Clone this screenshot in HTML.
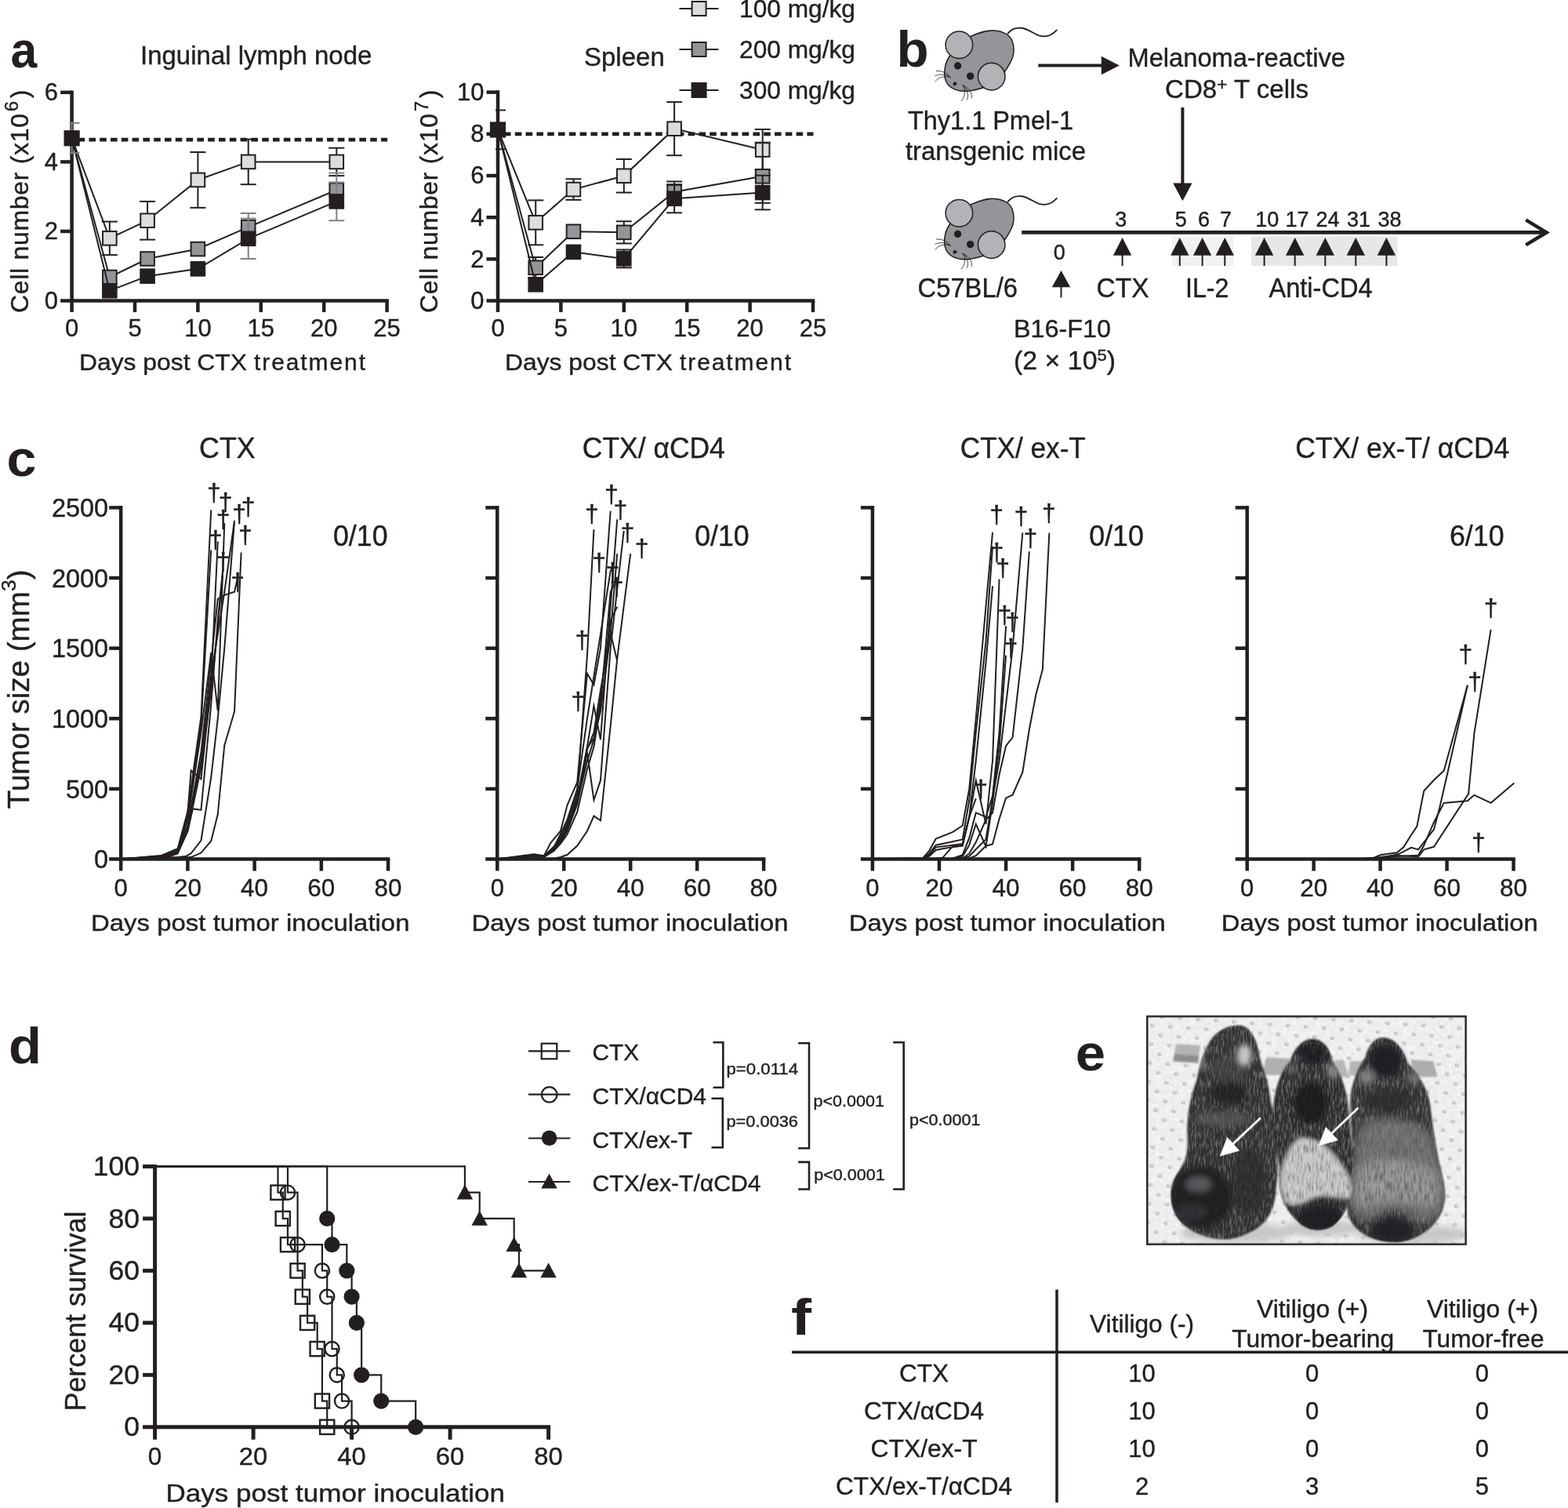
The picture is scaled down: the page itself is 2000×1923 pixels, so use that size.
<!DOCTYPE html>
<html lang="en"><head><meta charset="utf-8"><title>Figure</title>
<style>html,body{margin:0;padding:0;background:#fff}svg{display:block}text{font-family:"Liberation Sans",sans-serif;fill:#231f20;stroke:#231f20;stroke-width:.4px}text.b{stroke:none}</style></head>
<body><svg width="2000" height="1923" viewBox="0 0 2000 1923">
<rect x="0" y="0" width="2000" height="1923" fill="#fff"/>
<text x="13.5" y="86" font-size="64" font-weight="bold" textLength="33.7" lengthAdjust="spacingAndGlyphs" class="b">a</text>
<g>
<line x1="99.6" y1="178.05" x2="494.1" y2="178.05" stroke="#231f20" stroke-width="4.8" stroke-dasharray="8.6 5.2"/>
<line x1="139.84" y1="282.6" x2="139.84" y2="325.12" stroke="#231f20" stroke-width="2"/>
<line x1="129.84" y1="282.6" x2="149.84" y2="282.6" stroke="#231f20" stroke-width="2"/>
<line x1="129.84" y1="325.12" x2="149.84" y2="325.12" stroke="#231f20" stroke-width="2"/>
<line x1="188.08" y1="256.9" x2="188.08" y2="305.63" stroke="#231f20" stroke-width="2"/>
<line x1="178.08" y1="256.9" x2="198.08" y2="256.9" stroke="#231f20" stroke-width="2"/>
<line x1="178.08" y1="305.63" x2="198.08" y2="305.63" stroke="#231f20" stroke-width="2"/>
<line x1="252.4" y1="194" x2="252.4" y2="264.88" stroke="#231f20" stroke-width="2"/>
<line x1="242.4" y1="194" x2="262.4" y2="194" stroke="#231f20" stroke-width="2"/>
<line x1="242.4" y1="264.88" x2="262.4" y2="264.88" stroke="#231f20" stroke-width="2"/>
<line x1="316.72" y1="177.61" x2="316.72" y2="235.2" stroke="#231f20" stroke-width="2"/>
<line x1="306.72" y1="177.61" x2="326.72" y2="177.61" stroke="#231f20" stroke-width="2"/>
<line x1="306.72" y1="235.2" x2="326.72" y2="235.2" stroke="#231f20" stroke-width="2"/>
<line x1="429.28" y1="188.68" x2="429.28" y2="224.12" stroke="#231f20" stroke-width="2"/>
<line x1="419.28" y1="188.68" x2="439.28" y2="188.68" stroke="#231f20" stroke-width="2"/>
<line x1="419.28" y1="224.12" x2="439.28" y2="224.12" stroke="#231f20" stroke-width="2"/>
<polyline points="91.6,176.28 139.84,303.86 188.08,281.27 252.4,229.44 316.72,206.4 429.28,206.4" fill="none" stroke="#231f20" stroke-width="2"/>
<rect x="131.04" y="295.06" width="17.6" height="17.6" fill="#dcddde" stroke="#231f20" stroke-width="2"/>
<rect x="179.28" y="272.47" width="17.6" height="17.6" fill="#dcddde" stroke="#231f20" stroke-width="2"/>
<rect x="243.6" y="220.64" width="17.6" height="17.6" fill="#dcddde" stroke="#231f20" stroke-width="2"/>
<rect x="307.92" y="197.6" width="17.6" height="17.6" fill="#dcddde" stroke="#231f20" stroke-width="2"/>
<rect x="420.48" y="197.6" width="17.6" height="17.6" fill="#dcddde" stroke="#231f20" stroke-width="2"/>
<line x1="316.72" y1="271.96" x2="316.72" y2="307.4" stroke="#808285" stroke-width="2"/>
<line x1="306.72" y1="271.96" x2="326.72" y2="271.96" stroke="#808285" stroke-width="2"/>
<line x1="306.72" y1="307.4" x2="326.72" y2="307.4" stroke="#808285" stroke-width="2"/>
<line x1="429.28" y1="220.58" x2="429.28" y2="263.99" stroke="#808285" stroke-width="2"/>
<line x1="419.28" y1="220.58" x2="439.28" y2="220.58" stroke="#808285" stroke-width="2"/>
<line x1="419.28" y1="263.99" x2="439.28" y2="263.99" stroke="#808285" stroke-width="2"/>
<polyline points="91.6,176.28 139.84,353.48 188.08,330 252.4,317.59 316.72,289.68 429.28,242.28" fill="none" stroke="#231f20" stroke-width="2"/>
<rect x="131.04" y="344.68" width="17.6" height="17.6" fill="#939598" stroke="#231f20" stroke-width="2"/>
<rect x="179.28" y="321.2" width="17.6" height="17.6" fill="#939598" stroke="#231f20" stroke-width="2"/>
<rect x="243.6" y="308.79" width="17.6" height="17.6" fill="#939598" stroke="#231f20" stroke-width="2"/>
<rect x="307.92" y="280.88" width="17.6" height="17.6" fill="#939598" stroke="#231f20" stroke-width="2"/>
<rect x="420.48" y="233.48" width="17.6" height="17.6" fill="#939598" stroke="#231f20" stroke-width="2"/>
<line x1="316.72" y1="278.61" x2="316.72" y2="330" stroke="#808285" stroke-width="2"/>
<line x1="306.72" y1="278.61" x2="326.72" y2="278.61" stroke="#808285" stroke-width="2"/>
<line x1="306.72" y1="330" x2="326.72" y2="330" stroke="#808285" stroke-width="2"/>
<line x1="429.28" y1="232.54" x2="429.28" y2="281.27" stroke="#808285" stroke-width="2"/>
<line x1="419.28" y1="232.54" x2="439.28" y2="232.54" stroke="#808285" stroke-width="2"/>
<line x1="419.28" y1="281.27" x2="439.28" y2="281.27" stroke="#808285" stroke-width="2"/>
<polyline points="91.6,176.28 139.84,370.75 188.08,352.15 252.4,342.84 316.72,304.3 429.28,256.9" fill="none" stroke="#231f20" stroke-width="2"/>
<rect x="131.04" y="361.95" width="17.6" height="17.6" fill="#231f20" stroke="#231f20" stroke-width="2"/>
<rect x="179.28" y="343.35" width="17.6" height="17.6" fill="#231f20" stroke="#231f20" stroke-width="2"/>
<rect x="243.6" y="334.04" width="17.6" height="17.6" fill="#231f20" stroke="#231f20" stroke-width="2"/>
<rect x="307.92" y="295.5" width="17.6" height="17.6" fill="#231f20" stroke="#231f20" stroke-width="2"/>
<rect x="420.48" y="248.1" width="17.6" height="17.6" fill="#231f20" stroke="#231f20" stroke-width="2"/>
<line x1="91.6" y1="115.55" x2="91.6" y2="398.1" stroke="#231f20" stroke-width="4.5"/>
<line x1="77.1" y1="383.6" x2="495.85" y2="383.6" stroke="#231f20" stroke-width="4.5"/>
<text x="74.1" y="393.9" font-size="31" text-anchor="end">0</text>
<line x1="77.1" y1="295" x2="91.6" y2="295" stroke="#231f20" stroke-width="4.5"/>
<text x="74.1" y="305.3" font-size="31" text-anchor="end">2</text>
<line x1="77.1" y1="206.4" x2="91.6" y2="206.4" stroke="#231f20" stroke-width="4.5"/>
<text x="74.1" y="216.7" font-size="31" text-anchor="end">4</text>
<line x1="77.1" y1="117.8" x2="91.6" y2="117.8" stroke="#231f20" stroke-width="4.5"/>
<text x="74.1" y="128.1" font-size="31" text-anchor="end">6</text>
<line x1="172" y1="383.6" x2="172" y2="398.1" stroke="#231f20" stroke-width="4.5"/>
<line x1="252.4" y1="383.6" x2="252.4" y2="398.1" stroke="#231f20" stroke-width="4.5"/>
<line x1="332.8" y1="383.6" x2="332.8" y2="398.1" stroke="#231f20" stroke-width="4.5"/>
<line x1="413.2" y1="383.6" x2="413.2" y2="398.1" stroke="#231f20" stroke-width="4.5"/>
<line x1="493.6" y1="383.6" x2="493.6" y2="398.1" stroke="#231f20" stroke-width="4.5"/>
<text x="91.6" y="428.6" font-size="31" text-anchor="middle">0</text>
<text x="172" y="428.6" font-size="31" text-anchor="middle">5</text>
<text x="252.4" y="428.6" font-size="31" text-anchor="middle">10</text>
<text x="332.8" y="428.6" font-size="31" text-anchor="middle">15</text>
<text x="413.2" y="428.6" font-size="31" text-anchor="middle">20</text>
<text x="493.6" y="428.6" font-size="31" text-anchor="middle">25</text>
<line x1="91.6" y1="156.78" x2="91.6" y2="195.33" stroke="#808285" stroke-width="2"/>
<line x1="88.6" y1="156.78" x2="101.6" y2="156.78" stroke="#808285" stroke-width="2"/>
<line x1="88.6" y1="195.33" x2="101.6" y2="195.33" stroke="#808285" stroke-width="2"/>
<rect x="82.5" y="167.18" width="18.2" height="18.2" fill="#231f20" stroke="#231f20" stroke-width="2"/>
<text x="179" y="82.2" font-size="33">Inguinal lymph node</text>
<text x="101" y="471.6" font-size="30" textLength="214" lengthAdjust="spacingAndGlyphs">Days post CTX</text>
<text x="324" y="471.6" font-size="30" textLength="142" lengthAdjust="spacing">treatment</text>
<text x="36" y="399.1" font-size="32" transform="rotate(-90 36 399.1)" letter-spacing="0.7">Cell number (x10<tspan font-size="24" dy="-12.5" dx="2">6</tspan><tspan dy="12.5" dx="3">)</tspan></text>
</g>
<g>
<line x1="643" y1="170.8" x2="1037.5" y2="170.8" stroke="#231f20" stroke-width="4.8" stroke-dasharray="8.6 5.2"/>
<line x1="683.24" y1="255.39" x2="683.24" y2="312.31" stroke="#231f20" stroke-width="2"/>
<line x1="673.24" y1="255.39" x2="693.24" y2="255.39" stroke="#231f20" stroke-width="2"/>
<line x1="673.24" y1="312.31" x2="693.24" y2="312.31" stroke="#231f20" stroke-width="2"/>
<line x1="731.48" y1="228.26" x2="731.48" y2="254.86" stroke="#231f20" stroke-width="2"/>
<line x1="721.48" y1="228.26" x2="741.48" y2="228.26" stroke="#231f20" stroke-width="2"/>
<line x1="721.48" y1="254.86" x2="741.48" y2="254.86" stroke="#231f20" stroke-width="2"/>
<line x1="795.8" y1="202.99" x2="795.8" y2="245.55" stroke="#231f20" stroke-width="2"/>
<line x1="785.8" y1="202.99" x2="805.8" y2="202.99" stroke="#231f20" stroke-width="2"/>
<line x1="785.8" y1="245.55" x2="805.8" y2="245.55" stroke="#231f20" stroke-width="2"/>
<line x1="860.12" y1="130.1" x2="860.12" y2="198.2" stroke="#231f20" stroke-width="2"/>
<line x1="850.12" y1="130.1" x2="870.12" y2="130.1" stroke="#231f20" stroke-width="2"/>
<line x1="850.12" y1="198.2" x2="870.12" y2="198.2" stroke="#231f20" stroke-width="2"/>
<line x1="972.68" y1="164.95" x2="972.68" y2="217.08" stroke="#231f20" stroke-width="2"/>
<line x1="962.68" y1="164.95" x2="982.68" y2="164.95" stroke="#231f20" stroke-width="2"/>
<line x1="962.68" y1="217.08" x2="982.68" y2="217.08" stroke="#231f20" stroke-width="2"/>
<polyline points="635,165.48 683.24,283.85 731.48,241.56 795.8,224.27 860.12,164.15 972.68,191.02" fill="none" stroke="#231f20" stroke-width="2"/>
<rect x="674.44" y="275.05" width="17.6" height="17.6" fill="#dcddde" stroke="#231f20" stroke-width="2"/>
<rect x="722.68" y="232.76" width="17.6" height="17.6" fill="#dcddde" stroke="#231f20" stroke-width="2"/>
<rect x="787" y="215.47" width="17.6" height="17.6" fill="#dcddde" stroke="#231f20" stroke-width="2"/>
<rect x="851.32" y="155.35" width="17.6" height="17.6" fill="#dcddde" stroke="#231f20" stroke-width="2"/>
<rect x="963.88" y="182.22" width="17.6" height="17.6" fill="#dcddde" stroke="#231f20" stroke-width="2"/>
<line x1="683.24" y1="328.01" x2="683.24" y2="354.61" stroke="#231f20" stroke-width="2"/>
<line x1="673.24" y1="328.01" x2="693.24" y2="328.01" stroke="#231f20" stroke-width="2"/>
<line x1="673.24" y1="354.61" x2="693.24" y2="354.61" stroke="#231f20" stroke-width="2"/>
<line x1="795.8" y1="282.25" x2="795.8" y2="310.45" stroke="#231f20" stroke-width="2"/>
<line x1="785.8" y1="282.25" x2="805.8" y2="282.25" stroke="#231f20" stroke-width="2"/>
<line x1="785.8" y1="310.45" x2="805.8" y2="310.45" stroke="#231f20" stroke-width="2"/>
<line x1="860.12" y1="231.45" x2="860.12" y2="258.05" stroke="#231f20" stroke-width="2"/>
<line x1="850.12" y1="231.45" x2="870.12" y2="231.45" stroke="#231f20" stroke-width="2"/>
<line x1="850.12" y1="258.05" x2="870.12" y2="258.05" stroke="#231f20" stroke-width="2"/>
<line x1="972.68" y1="181.71" x2="972.68" y2="258.85" stroke="#231f20" stroke-width="2"/>
<line x1="962.68" y1="181.71" x2="982.68" y2="181.71" stroke="#231f20" stroke-width="2"/>
<line x1="962.68" y1="258.85" x2="982.68" y2="258.85" stroke="#231f20" stroke-width="2"/>
<polyline points="635,165.48 683.24,341.31 731.48,295.29 795.8,296.35 860.12,244.75 972.68,224.8" fill="none" stroke="#231f20" stroke-width="2"/>
<rect x="674.44" y="332.51" width="17.6" height="17.6" fill="#939598" stroke="#231f20" stroke-width="2"/>
<rect x="722.68" y="286.49" width="17.6" height="17.6" fill="#939598" stroke="#231f20" stroke-width="2"/>
<rect x="787" y="287.55" width="17.6" height="17.6" fill="#939598" stroke="#231f20" stroke-width="2"/>
<rect x="851.32" y="235.95" width="17.6" height="17.6" fill="#939598" stroke="#231f20" stroke-width="2"/>
<rect x="963.88" y="216" width="17.6" height="17.6" fill="#939598" stroke="#231f20" stroke-width="2"/>
<line x1="795.8" y1="318.43" x2="795.8" y2="341.31" stroke="#231f20" stroke-width="2"/>
<line x1="785.8" y1="318.43" x2="805.8" y2="318.43" stroke="#231f20" stroke-width="2"/>
<line x1="785.8" y1="341.31" x2="805.8" y2="341.31" stroke="#231f20" stroke-width="2"/>
<line x1="860.12" y1="235.17" x2="860.12" y2="271.35" stroke="#231f20" stroke-width="2"/>
<line x1="850.12" y1="235.17" x2="870.12" y2="235.17" stroke="#231f20" stroke-width="2"/>
<line x1="850.12" y1="271.35" x2="870.12" y2="271.35" stroke="#231f20" stroke-width="2"/>
<line x1="972.68" y1="223.73" x2="972.68" y2="267.36" stroke="#231f20" stroke-width="2"/>
<line x1="962.68" y1="223.73" x2="982.68" y2="223.73" stroke="#231f20" stroke-width="2"/>
<line x1="962.68" y1="267.36" x2="982.68" y2="267.36" stroke="#231f20" stroke-width="2"/>
<polyline points="635,165.48 683.24,362.85 731.48,321.36 795.8,329.87 860.12,253.26 972.68,245.55" fill="none" stroke="#231f20" stroke-width="2"/>
<rect x="674.44" y="354.05" width="17.6" height="17.6" fill="#231f20" stroke="#231f20" stroke-width="2"/>
<rect x="722.68" y="312.56" width="17.6" height="17.6" fill="#231f20" stroke="#231f20" stroke-width="2"/>
<rect x="787" y="321.07" width="17.6" height="17.6" fill="#231f20" stroke="#231f20" stroke-width="2"/>
<rect x="851.32" y="244.46" width="17.6" height="17.6" fill="#231f20" stroke="#231f20" stroke-width="2"/>
<rect x="963.88" y="236.75" width="17.6" height="17.6" fill="#231f20" stroke="#231f20" stroke-width="2"/>
<line x1="635" y1="115.35" x2="635" y2="398.1" stroke="#231f20" stroke-width="4.5"/>
<line x1="620.5" y1="383.6" x2="1039.25" y2="383.6" stroke="#231f20" stroke-width="4.5"/>
<text x="617.5" y="393.9" font-size="31" text-anchor="end">0</text>
<line x1="620.5" y1="330.4" x2="635" y2="330.4" stroke="#231f20" stroke-width="4.5"/>
<text x="617.5" y="340.7" font-size="31" text-anchor="end">2</text>
<line x1="620.5" y1="277.2" x2="635" y2="277.2" stroke="#231f20" stroke-width="4.5"/>
<text x="617.5" y="287.5" font-size="31" text-anchor="end">4</text>
<line x1="620.5" y1="224" x2="635" y2="224" stroke="#231f20" stroke-width="4.5"/>
<text x="617.5" y="234.3" font-size="31" text-anchor="end">6</text>
<line x1="620.5" y1="170.8" x2="635" y2="170.8" stroke="#231f20" stroke-width="4.5"/>
<text x="617.5" y="181.1" font-size="31" text-anchor="end">8</text>
<line x1="620.5" y1="117.6" x2="635" y2="117.6" stroke="#231f20" stroke-width="4.5"/>
<text x="617.5" y="127.9" font-size="31" text-anchor="end">10</text>
<line x1="715.4" y1="383.6" x2="715.4" y2="398.1" stroke="#231f20" stroke-width="4.5"/>
<line x1="795.8" y1="383.6" x2="795.8" y2="398.1" stroke="#231f20" stroke-width="4.5"/>
<line x1="876.2" y1="383.6" x2="876.2" y2="398.1" stroke="#231f20" stroke-width="4.5"/>
<line x1="956.6" y1="383.6" x2="956.6" y2="398.1" stroke="#231f20" stroke-width="4.5"/>
<line x1="1037" y1="383.6" x2="1037" y2="398.1" stroke="#231f20" stroke-width="4.5"/>
<text x="635" y="428.6" font-size="31" text-anchor="middle">0</text>
<text x="715.4" y="428.6" font-size="31" text-anchor="middle">5</text>
<text x="795.8" y="428.6" font-size="31" text-anchor="middle">10</text>
<text x="876.2" y="428.6" font-size="31" text-anchor="middle">15</text>
<text x="956.6" y="428.6" font-size="31" text-anchor="middle">20</text>
<text x="1037" y="428.6" font-size="31" text-anchor="middle">25</text>
<line x1="635" y1="140.48" x2="635" y2="190.22" stroke="#231f20" stroke-width="2"/>
<line x1="632" y1="140.48" x2="645" y2="140.48" stroke="#231f20" stroke-width="2"/>
<line x1="632" y1="190.22" x2="645" y2="190.22" stroke="#231f20" stroke-width="2"/>
<rect x="625.9" y="156.38" width="18.2" height="18.2" fill="#231f20" stroke="#231f20" stroke-width="2"/>
<text x="745" y="83.7" font-size="33">Spleen</text>
<text x="644" y="471.6" font-size="30" textLength="214" lengthAdjust="spacingAndGlyphs">Days post CTX</text>
<text x="867" y="471.6" font-size="30" textLength="142" lengthAdjust="spacing">treatment</text>
<text x="558.5" y="399.1" font-size="32" transform="rotate(-90 558.5 399.1)" letter-spacing="0.7">Cell number (x10<tspan font-size="24" dy="-12.5" dx="2">7</tspan><tspan dy="12.5" dx="3">)</tspan></text>
</g>
<line x1="866.5" y1="11" x2="916.5" y2="11" stroke="#231f20" stroke-width="2"/>
<rect x="882.6" y="2" width="18" height="18" fill="#dcddde" stroke="#231f20" stroke-width="2"/>
<text x="943" y="22.4" font-size="30.5" textLength="148" lengthAdjust="spacingAndGlyphs">100 mg/kg</text>
<line x1="866.5" y1="63" x2="916.5" y2="63" stroke="#231f20" stroke-width="2"/>
<rect x="882.6" y="54" width="18" height="18" fill="#939598" stroke="#231f20" stroke-width="2"/>
<text x="943" y="73.9" font-size="30.5" textLength="148" lengthAdjust="spacingAndGlyphs">200 mg/kg</text>
<line x1="866.5" y1="115" x2="916.5" y2="115" stroke="#231f20" stroke-width="2"/>
<rect x="882.6" y="106" width="18" height="18" fill="#231f20" stroke="#231f20" stroke-width="2"/>
<text x="943" y="125.5" font-size="30.5" textLength="148" lengthAdjust="spacingAndGlyphs">300 mg/kg</text>
<text x="1143.5" y="85.3" font-size="64" font-weight="bold" textLength="41.1" lengthAdjust="spacingAndGlyphs" class="b">b</text>
<g transform="translate(0 0)" stroke="#231f20" stroke-linecap="round" stroke-linejoin="round">
<path d="M1285.6,42.6 C1290,37 1297,35 1303,35.8 C1312,37 1318,43 1326,45.6 C1335,48 1343,44 1347.8,38.4" fill="none" stroke-width="1.9"/>
<path d="M1239,46 C1250,41 1262,38.6 1268,38.9 C1278,39.3 1288,44 1291,52 C1294.6,62 1293,72 1288.5,80 C1284,88 1278,99 1266,106.5 C1258,111 1248,114 1238,115.8 C1230,117 1220,116 1213,111.4 C1207,107.3 1204.3,100 1204.7,92 C1205,84 1207,78 1211,72 C1218,62 1228,51 1239,46 Z" fill="#939598" stroke-width="1.5"/>
<circle cx="1223.4" cy="57.2" r="17.3" fill="#b1b3b6" stroke-width="1.5"/>
<circle cx="1264.7" cy="97.6" r="17.3" fill="#b1b3b6" stroke-width="1.5"/>
<circle cx="1221.6" cy="84" r="4.7" fill="#231f20" stroke="none"/>
<circle cx="1237.7" cy="97.1" r="4.7" fill="#231f20" stroke="none"/>
<path d="M1217.2,103.9 L1221.3,106.3 L1217.6,109.8 L1215.2,107.6 Z" fill="#231f20" stroke="none"/>
<g fill="none" stroke-width="0.8">
<path d="M1212.7,99.1 Q1207,90 1194.3,90.4"/>
<path d="M1212.3,98.8 Q1203.5,92.5 1192.8,96.6"/>
<path d="M1211,98.2 Q1199.4,95.5 1192.8,103.7"/>
<path d="M1228,108.4 Q1240.5,114.5 1239.7,125.1"/>
<path d="M1228,108.4 Q1237.5,116.5 1233.6,127.1"/>
<path d="M1228,108.4 Q1234.5,118 1226.4,128.7"/>
</g>
</g>
<g transform="translate(0 214.5)" stroke="#231f20" stroke-linecap="round" stroke-linejoin="round">
<path d="M1285.6,42.6 C1290,37 1297,35 1303,35.8 C1312,37 1318,43 1326,45.6 C1335,48 1343,44 1347.8,38.4" fill="none" stroke-width="1.9"/>
<path d="M1239,46 C1250,41 1262,38.6 1268,38.9 C1278,39.3 1288,44 1291,52 C1294.6,62 1293,72 1288.5,80 C1284,88 1278,99 1266,106.5 C1258,111 1248,114 1238,115.8 C1230,117 1220,116 1213,111.4 C1207,107.3 1204.3,100 1204.7,92 C1205,84 1207,78 1211,72 C1218,62 1228,51 1239,46 Z" fill="#939598" stroke-width="1.5"/>
<circle cx="1223.4" cy="57.2" r="17.3" fill="#b1b3b6" stroke-width="1.5"/>
<circle cx="1264.7" cy="97.6" r="17.3" fill="#b1b3b6" stroke-width="1.5"/>
<circle cx="1221.6" cy="84" r="4.7" fill="#231f20" stroke="none"/>
<circle cx="1237.7" cy="97.1" r="4.7" fill="#231f20" stroke="none"/>
<path d="M1217.2,103.9 L1221.3,106.3 L1217.6,109.8 L1215.2,107.6 Z" fill="#231f20" stroke="none"/>
<g fill="none" stroke-width="0.8">
<path d="M1212.7,99.1 Q1207,90 1194.3,90.4"/>
<path d="M1212.3,98.8 Q1203.5,92.5 1192.8,96.6"/>
<path d="M1211,98.2 Q1199.4,95.5 1192.8,103.7"/>
<path d="M1228,108.4 Q1240.5,114.5 1239.7,125.1"/>
<path d="M1228,108.4 Q1237.5,116.5 1233.6,127.1"/>
<path d="M1228,108.4 Q1234.5,118 1226.4,128.7"/>
</g>
</g>
<line x1="1324.3" y1="83.5" x2="1408" y2="83.5" stroke="#231f20" stroke-width="4"/>
<polygon points="1427.8,83.5 1404.8,71.8 1404.8,95.2" fill="#231f20"/>
<text x="1438.5" y="85.3" font-size="32.5" textLength="277.5" lengthAdjust="spacingAndGlyphs">Melanoma-reactive</text>
<text x="1486" y="124.5" font-size="32.5" textLength="183" lengthAdjust="spacingAndGlyphs">CD8<tspan font-size="22" dy="-10">+</tspan><tspan dy="10"> T cells</tspan></text>
<line x1="1508.4" y1="137" x2="1508.4" y2="236" stroke="#231f20" stroke-width="4"/>
<polygon points="1508.4,256.3 1496.2,233.4 1520.6,233.4" fill="#231f20"/>
<text x="1158" y="165.2" font-size="33.5" textLength="211" lengthAdjust="spacingAndGlyphs">Thy1.1 Pmel-1</text>
<text x="1155" y="204.3" font-size="33.5" textLength="230" lengthAdjust="spacingAndGlyphs">transgenic mice</text>
<rect x="1495" y="301.8" width="78.5" height="37.2" fill="#f1f1f2"/>
<rect x="1596" y="301.8" width="186.3" height="37.2" fill="#e6e7e8"/>
<line x1="1303.2" y1="296.4" x2="1969" y2="296.4" stroke="#231f20" stroke-width="4.6"/>
<polyline points="1946.2,280.4 1972.5,296.4 1946.2,312.4" fill="none" stroke="#231f20" stroke-width="4.6" stroke-miterlimit="10"/>
<text x="1429.8" y="289.4" font-size="27" text-anchor="middle">3</text>
<text x="1506.2" y="289.4" font-size="27" text-anchor="middle">5</text>
<text x="1535.4" y="289.4" font-size="27" text-anchor="middle">6</text>
<text x="1563.6" y="289.4" font-size="27" text-anchor="middle">7</text>
<text x="1616.2" y="289.4" font-size="27" text-anchor="middle">10</text>
<text x="1654.4" y="289.4" font-size="27" text-anchor="middle">17</text>
<text x="1693.4" y="289.4" font-size="27" text-anchor="middle">24</text>
<text x="1732.9" y="289.4" font-size="27" text-anchor="middle">31</text>
<text x="1772.4" y="289.4" font-size="27" text-anchor="middle">38</text>
<text x="1351.3" y="331.4" font-size="27" text-anchor="middle">0</text>
<polygon points="1431.6,303.1 1443.3,325.8 1419.9,325.8" fill="#231f20"/>
<line x1="1431.6" y1="324.8" x2="1431.6" y2="339" stroke="#231f20" stroke-width="2"/>
<polygon points="1504.8,303.1 1516.5,325.8 1493.1,325.8" fill="#231f20"/>
<line x1="1504.8" y1="324.8" x2="1504.8" y2="339" stroke="#231f20" stroke-width="2"/>
<polygon points="1533.6,303.1 1545.3,325.8 1521.9,325.8" fill="#231f20"/>
<line x1="1533.6" y1="324.8" x2="1533.6" y2="339" stroke="#231f20" stroke-width="2"/>
<polygon points="1562.3,303.1 1574,325.8 1550.6,325.8" fill="#231f20"/>
<line x1="1562.3" y1="324.8" x2="1562.3" y2="339" stroke="#231f20" stroke-width="2"/>
<polygon points="1612.6,303.1 1624.3,325.8 1600.9,325.8" fill="#231f20"/>
<line x1="1612.6" y1="324.8" x2="1612.6" y2="339" stroke="#231f20" stroke-width="2"/>
<polygon points="1651.7,303.1 1663.4,325.8 1640,325.8" fill="#231f20"/>
<line x1="1651.7" y1="324.8" x2="1651.7" y2="339" stroke="#231f20" stroke-width="2"/>
<polygon points="1690.3,303.1 1702,325.8 1678.6,325.8" fill="#231f20"/>
<line x1="1690.3" y1="324.8" x2="1690.3" y2="339" stroke="#231f20" stroke-width="2"/>
<polygon points="1729.3,303.1 1741,325.8 1717.6,325.8" fill="#231f20"/>
<line x1="1729.3" y1="324.8" x2="1729.3" y2="339" stroke="#231f20" stroke-width="2"/>
<polygon points="1768.4,303.1 1780.1,325.8 1756.7,325.8" fill="#231f20"/>
<line x1="1768.4" y1="324.8" x2="1768.4" y2="339" stroke="#231f20" stroke-width="2"/>
<polygon points="1353.5,344.9 1365.2,366.2 1341.8,366.2" fill="#231f20"/>
<line x1="1353.5" y1="365.2" x2="1353.5" y2="379.4" stroke="#231f20" stroke-width="2"/>
<text x="1170.5" y="379.4" font-size="34.2" textLength="127.5" lengthAdjust="spacingAndGlyphs">C57BL/6</text>
<text x="1398.5" y="379.4" font-size="34.2" textLength="67" lengthAdjust="spacingAndGlyphs">CTX</text>
<text x="1512" y="379.4" font-size="34.2" textLength="55.5" lengthAdjust="spacingAndGlyphs">IL-2</text>
<text x="1618.5" y="379.4" font-size="34.2" textLength="132" lengthAdjust="spacingAndGlyphs">Anti-CD4</text>
<text x="1293" y="430.2" font-size="32" textLength="124" lengthAdjust="spacingAndGlyphs">B16-F10</text>
<text x="1293" y="470.6" font-size="32.5" textLength="130" lengthAdjust="spacingAndGlyphs">(2 × 10<tspan font-size="21" dy="-10.5">5</tspan><tspan dy="10.5">)</tspan></text>
<text x="8.5" y="607" font-size="64" font-weight="bold" textLength="37.9" lengthAdjust="spacingAndGlyphs" class="b">c</text>
<g>
<g fill="none" stroke="#231f20" stroke-width="2" stroke-linejoin="miter" stroke-miterlimit="6">
<polyline points="154.2,1095.6 205.33,1091.12 226.64,1082.15 239.42,1034.64 256.46,914.51 269.25,650.22"/>
<polyline points="154.2,1095.6 205.33,1092.01 226.64,1083.95 239.42,1041.81 256.46,923.47 269.25,701.5"/>
<polyline points="154.2,1095.6 205.33,1092.91 226.64,1085.74 239.42,1036.43 243.68,982.64 256.46,993.4 269.25,871.47 277.77,690.38"/>
<polyline points="154.2,1095.6 205.33,1092.01 226.64,1084.84 239.42,1045.4 256.46,934.23 269.25,832.03 277.77,906.44 286.29,666.89"/>
<polyline points="154.2,1095.6 213.85,1092.01 226.64,1086.63 239.42,1059.74 245.81,1031.41 256.46,1032.84 269.25,898.37 277.77,790.79 284.16,728.03"/>
<polyline points="154.2,1095.6 213.85,1091.12 226.64,1084.84 239.42,1052.57 256.46,959.33 269.25,844.58 277.77,763.89 286.29,758.87 299.07,754.75 303.33,735.21"/>
<polyline points="154.2,1095.6 213.85,1092.91 226.64,1087.53 239.42,1056.15 256.46,970.09 269.25,862.51 286.29,754.93 299.07,663.85"/>
<polyline points="154.2,1095.6 213.85,1092.91 226.64,1088.43 239.42,1059.74 256.46,979.05 269.25,880.44 277.77,799.75 284.16,728.03"/>
<polyline points="154.2,1095.6 226.64,1092.91 236.86,1092.01 243.68,1088.25 256.46,1071.75 269.25,991.25 277.77,916.3 286.29,826.65 299.07,663.85"/>
<polyline points="154.2,1095.6 226.64,1093.81 243.68,1093.09 256.46,1087.53 269.25,1072.47 277.77,1038.58 286.29,950.37 299.07,907.16 307.6,704.55"/>
</g>
<line x1="154.2" y1="645.1" x2="154.2" y2="1110.6" stroke="#231f20" stroke-width="4.5"/>
<line x1="139.2" y1="1095.6" x2="497.33" y2="1095.6" stroke="#231f20" stroke-width="4.5"/>
<line x1="139.2" y1="1005.95" x2="154.2" y2="1005.95" stroke="#231f20" stroke-width="4.5"/>
<line x1="139.2" y1="916.3" x2="154.2" y2="916.3" stroke="#231f20" stroke-width="4.5"/>
<line x1="139.2" y1="826.65" x2="154.2" y2="826.65" stroke="#231f20" stroke-width="4.5"/>
<line x1="139.2" y1="737" x2="154.2" y2="737" stroke="#231f20" stroke-width="4.5"/>
<line x1="139.2" y1="647.35" x2="154.2" y2="647.35" stroke="#231f20" stroke-width="4.5"/>
<line x1="239.42" y1="1095.6" x2="239.42" y2="1110.6" stroke="#231f20" stroke-width="4.5"/>
<line x1="324.64" y1="1095.6" x2="324.64" y2="1110.6" stroke="#231f20" stroke-width="4.5"/>
<line x1="409.86" y1="1095.6" x2="409.86" y2="1110.6" stroke="#231f20" stroke-width="4.5"/>
<line x1="495.08" y1="1095.6" x2="495.08" y2="1110.6" stroke="#231f20" stroke-width="4.5"/>
<text x="154.2" y="1142.8" font-size="31" text-anchor="middle">0</text>
<text x="239.42" y="1142.8" font-size="31" text-anchor="middle" textLength="35" lengthAdjust="spacingAndGlyphs">20</text>
<text x="324.64" y="1142.8" font-size="31" text-anchor="middle" textLength="35" lengthAdjust="spacingAndGlyphs">40</text>
<text x="409.86" y="1142.8" font-size="31" text-anchor="middle" textLength="35" lengthAdjust="spacingAndGlyphs">60</text>
<text x="495.08" y="1142.8" font-size="31" text-anchor="middle" textLength="35" lengthAdjust="spacingAndGlyphs">80</text>
<text x="138.2" y="1107.2" font-size="32.5" text-anchor="end">0</text>
<text x="138.2" y="1017.55" font-size="32.5" text-anchor="end">500</text>
<text x="138.2" y="927.9" font-size="32.5" text-anchor="end">1000</text>
<text x="138.2" y="838.25" font-size="32.5" text-anchor="end">1500</text>
<text x="138.2" y="748.6" font-size="32.5" text-anchor="end">2000</text>
<text x="138.2" y="658.95" font-size="32.5" text-anchor="end">2500</text>
<text x="272.8" y="638.59" font-size="32" text-anchor="middle">†</text>
<text x="287.6" y="651.49" font-size="32" text-anchor="middle">†</text>
<text x="316.6" y="656.99" font-size="32" text-anchor="middle">†</text>
<text x="305.1" y="665.99" font-size="32" text-anchor="middle">†</text>
<text x="284.6" y="673.09" font-size="32" text-anchor="middle">†</text>
<text x="312.8" y="692.89" font-size="32" text-anchor="middle">†</text>
<text x="274.9" y="699.49" font-size="32" text-anchor="middle">†</text>
<text x="284.6" y="727.29" font-size="32" text-anchor="middle">†</text>
<text x="303.2" y="753.19" font-size="32" text-anchor="middle">†</text>
<text x="254.1" y="584" font-size="36" textLength="71.5" lengthAdjust="spacingAndGlyphs">CTX</text>
<text x="425" y="696.2" font-size="36" textLength="69.5" lengthAdjust="spacingAndGlyphs">0/10</text>
<text x="116" y="1187.2" font-size="30" textLength="406.5" lengthAdjust="spacingAndGlyphs">Days post tumor inoculation</text>
</g>
<g>
<g fill="none" stroke="#231f20" stroke-width="2" stroke-linejoin="miter" stroke-miterlimit="6">
<polyline points="634.3,1095.6 681.02,1089.32 693.76,1091.12 706.51,1081.26 715,1065.12 723.5,1048.26 736.24,1011.69 748.98,835.62 757.48,675.14"/>
<polyline points="634.3,1095.6 681.02,1090.22 693.76,1091.66 702.26,1074.98 715,1059.74 723.5,1026.75 736.24,997.7 748.98,858.92 757.48,873.27 765.97,826.65 778.71,651.65"/>
<polyline points="634.3,1095.6 681.02,1091.12 693.76,1092.01 706.51,1079.46 715,1068.7 723.5,1052.57 736.24,1017.43 748.98,952.16 757.48,900.16 765.97,943.19 778.71,772.86 787.21,662.41"/>
<polyline points="634.3,1095.6 681.02,1092.01 693.76,1092.37 706.51,1083.05 715,1072.29 723.5,1058.31 736.24,1022.98 748.98,953.95 757.48,941.4 765.97,907.33 778.71,808.72 787.21,706.16"/>
<polyline points="634.3,1095.6 681.02,1092.01 693.76,1092.91 706.51,1084.84 715,1074.08 723.5,1059.74 736.24,1025.67 748.98,959.33 757.48,1020.29 765.97,995.19 778.71,826.65 795.7,676.93"/>
<polyline points="634.3,1095.6 706.51,1094.7 715,1092.91 723.5,1090.04 736.24,1078.57 748.98,1059.74 757.48,1040.55 765.97,1046.29 778.71,925.98 787.21,840.1 795.7,772.86 804.2,706.16"/>
<polyline points="634.3,1095.6 681.02,1091.66 693.76,1092.73 706.51,1082.15 715,1070.5 723.5,1055.44 736.24,1020.11 748.98,955.75 757.48,934.23 765.97,880.44 778.71,806.93 787.21,842.79"/>
<polyline points="634.3,1095.6 681.02,1092.37 693.76,1093.09 706.51,1083.95 715,1073.19 723.5,1056.87 736.24,1024.42 748.98,970.09 757.48,943.19 765.97,889.4 778.71,790.79 787.21,773.76"/>
<polyline points="634.3,1095.6 681.02,1090.58 693.76,1092.01 706.51,1080.36 715,1063.33 723.5,1045.4 736.24,1006.13 748.98,916.3 757.48,862.51 765.97,808.72 778.71,728.03 782.96,719.07"/>
<polyline points="634.3,1095.6 681.02,1091.3 693.76,1092.55 706.51,1084.84 715,1075.88 723.5,1064.04 736.24,1035.53 748.98,980.85 757.48,952.16 765.97,898.37 778.71,754.93 787.21,737"/>
</g>
<line x1="634.3" y1="645.1" x2="634.3" y2="1110.6" stroke="#231f20" stroke-width="4.5"/>
<line x1="619.3" y1="1095.6" x2="976.35" y2="1095.6" stroke="#231f20" stroke-width="4.5"/>
<line x1="619.3" y1="1005.95" x2="634.3" y2="1005.95" stroke="#231f20" stroke-width="4.5"/>
<line x1="619.3" y1="916.3" x2="634.3" y2="916.3" stroke="#231f20" stroke-width="4.5"/>
<line x1="619.3" y1="826.65" x2="634.3" y2="826.65" stroke="#231f20" stroke-width="4.5"/>
<line x1="619.3" y1="737" x2="634.3" y2="737" stroke="#231f20" stroke-width="4.5"/>
<line x1="619.3" y1="647.35" x2="634.3" y2="647.35" stroke="#231f20" stroke-width="4.5"/>
<line x1="719.25" y1="1095.6" x2="719.25" y2="1110.6" stroke="#231f20" stroke-width="4.5"/>
<line x1="804.2" y1="1095.6" x2="804.2" y2="1110.6" stroke="#231f20" stroke-width="4.5"/>
<line x1="889.15" y1="1095.6" x2="889.15" y2="1110.6" stroke="#231f20" stroke-width="4.5"/>
<line x1="974.1" y1="1095.6" x2="974.1" y2="1110.6" stroke="#231f20" stroke-width="4.5"/>
<text x="634.3" y="1142.8" font-size="31" text-anchor="middle">0</text>
<text x="719.25" y="1142.8" font-size="31" text-anchor="middle" textLength="35" lengthAdjust="spacingAndGlyphs">20</text>
<text x="804.2" y="1142.8" font-size="31" text-anchor="middle" textLength="35" lengthAdjust="spacingAndGlyphs">40</text>
<text x="889.15" y="1142.8" font-size="31" text-anchor="middle" textLength="35" lengthAdjust="spacingAndGlyphs">60</text>
<text x="974.1" y="1142.8" font-size="31" text-anchor="middle" textLength="35" lengthAdjust="spacingAndGlyphs">80</text>
<text x="780" y="640.89" font-size="32" text-anchor="middle">†</text>
<text x="754.8" y="665.99" font-size="32" text-anchor="middle">†</text>
<text x="791.4" y="661.49" font-size="32" text-anchor="middle">†</text>
<text x="800.4" y="690.09" font-size="32" text-anchor="middle">†</text>
<text x="818.6" y="710.39" font-size="32" text-anchor="middle">†</text>
<text x="764.1" y="727.59" font-size="32" text-anchor="middle">†</text>
<text x="781.4" y="740.19" font-size="32" text-anchor="middle">†</text>
<text x="786.6" y="759.09" font-size="32" text-anchor="middle">†</text>
<text x="742.5" y="826.59" font-size="32" text-anchor="middle">†</text>
<text x="737.5" y="905.19" font-size="32" text-anchor="middle">†</text>
<text x="742.8" y="584" font-size="36" textLength="182" lengthAdjust="spacingAndGlyphs">CTX/ αCD4</text>
<text x="886.2" y="696.2" font-size="36" textLength="69.5" lengthAdjust="spacingAndGlyphs">0/10</text>
<text x="601.5" y="1187.2" font-size="30" textLength="404" lengthAdjust="spacingAndGlyphs">Days post tumor inoculation</text>
</g>
<g>
<g fill="none" stroke="#231f20" stroke-width="2" stroke-linejoin="miter" stroke-miterlimit="6">
<polyline points="1112.9,1095.6 1163.95,1094.17 1176.71,1094.7 1185.22,1084.84 1193.73,1069.6 1215,1061.17 1227.76,1052.75 1236.27,1005.95 1244.77,916.3 1257.54,772.86 1266.04,678.91"/>
<polyline points="1112.9,1095.6 1176.71,1094.88 1185.22,1088.43 1193.73,1077.67 1215,1073.19 1227.76,1070.5 1236.27,1020.29 1244.77,934.23 1257.54,817.68 1266.04,696.84"/>
<polyline points="1112.9,1095.6 1176.71,1095.06 1185.22,1090.22 1193.73,1080.36 1215,1077.67 1227.76,1075.88 1236.27,1041.81 1244.77,1018.32"/>
<polyline points="1112.9,1095.6 1176.71,1095.24 1185.22,1092.01 1193.73,1083.95 1202.23,1082.15 1215,1080.36 1227.76,1078.57 1236.27,1041.81 1244.77,970.09 1257.54,844.58 1266.04,747.4"/>
<polyline points="1112.9,1095.6 1193.73,1094.7 1202.23,1093.81 1215,1079.46 1227.76,1077.67 1236.27,1041.81 1244.77,995.19 1257.54,1050.77 1266.04,970.09 1274.55,738.61"/>
<polyline points="1112.9,1095.6 1215,1094.7 1227.76,1090.22 1236.27,1068.7 1244.77,1036.43 1257.54,1041.81 1266.04,1014.91 1274.55,934.23 1283.06,798.32"/>
<polyline points="1112.9,1095.6 1215,1095.06 1227.76,1092.01 1236.27,1077.67 1244.77,1050.77 1257.54,1079.46 1266.04,1023.88 1274.55,952.16 1283.06,835.79"/>
<polyline points="1112.9,1095.6 1227.76,1094.7 1236.27,1088.43 1244.77,1074.08 1257.54,1045.4 1266.04,1036.43 1274.55,988.02 1283.06,951.08 1291.57,940.33 1304.33,826.65 1312.84,703.29"/>
<polyline points="1112.9,1095.6 1227.76,1095.06 1236.27,1092.01 1244.77,1083.05 1257.54,1070.5 1266.04,1018.5 1274.55,970.09 1283.06,898.37 1291.57,826.65 1304.33,679.44"/>
<polyline points="1112.9,1095.6 1236.27,1094.7 1244.77,1091.12 1257.54,1078.75 1266.04,1076.41 1274.55,1044.32 1283.06,1017.6 1291.57,1013.66 1304.33,984.61 1312.84,930.29 1321.35,885.82 1329.85,853.72 1338.36,679.44"/>
</g>
<line x1="1112.9" y1="645.1" x2="1112.9" y2="1110.6" stroke="#231f20" stroke-width="4.5"/>
<line x1="1097.9" y1="1095.6" x2="1455.47" y2="1095.6" stroke="#231f20" stroke-width="4.5"/>
<line x1="1097.9" y1="1005.95" x2="1112.9" y2="1005.95" stroke="#231f20" stroke-width="4.5"/>
<line x1="1097.9" y1="916.3" x2="1112.9" y2="916.3" stroke="#231f20" stroke-width="4.5"/>
<line x1="1097.9" y1="826.65" x2="1112.9" y2="826.65" stroke="#231f20" stroke-width="4.5"/>
<line x1="1097.9" y1="737" x2="1112.9" y2="737" stroke="#231f20" stroke-width="4.5"/>
<line x1="1097.9" y1="647.35" x2="1112.9" y2="647.35" stroke="#231f20" stroke-width="4.5"/>
<line x1="1197.98" y1="1095.6" x2="1197.98" y2="1110.6" stroke="#231f20" stroke-width="4.5"/>
<line x1="1283.06" y1="1095.6" x2="1283.06" y2="1110.6" stroke="#231f20" stroke-width="4.5"/>
<line x1="1368.14" y1="1095.6" x2="1368.14" y2="1110.6" stroke="#231f20" stroke-width="4.5"/>
<line x1="1453.22" y1="1095.6" x2="1453.22" y2="1110.6" stroke="#231f20" stroke-width="4.5"/>
<text x="1112.9" y="1142.8" font-size="31" text-anchor="middle">0</text>
<text x="1197.98" y="1142.8" font-size="31" text-anchor="middle" textLength="35" lengthAdjust="spacingAndGlyphs">20</text>
<text x="1283.06" y="1142.8" font-size="31" text-anchor="middle" textLength="35" lengthAdjust="spacingAndGlyphs">40</text>
<text x="1368.14" y="1142.8" font-size="31" text-anchor="middle" textLength="35" lengthAdjust="spacingAndGlyphs">60</text>
<text x="1453.22" y="1142.8" font-size="31" text-anchor="middle" textLength="35" lengthAdjust="spacingAndGlyphs">80</text>
<text x="1271.1" y="667.29" font-size="32" text-anchor="middle">†</text>
<text x="1302.5" y="669.09" font-size="32" text-anchor="middle">†</text>
<text x="1338" y="664.79" font-size="32" text-anchor="middle">†</text>
<text x="1314.3" y="697.09" font-size="32" text-anchor="middle">†</text>
<text x="1271.4" y="714.59" font-size="32" text-anchor="middle">†</text>
<text x="1279.1" y="735.39" font-size="32" text-anchor="middle">†</text>
<text x="1281.4" y="794.89" font-size="32" text-anchor="middle">†</text>
<text x="1291.3" y="803.79" font-size="32" text-anchor="middle">†</text>
<text x="1289.3" y="836.99" font-size="32" text-anchor="middle">†</text>
<text x="1251.1" y="1016.99" font-size="32" text-anchor="middle">†</text>
<text x="1224.8" y="584" font-size="36" textLength="160" lengthAdjust="spacingAndGlyphs">CTX/ ex-T</text>
<text x="1389.3" y="696.2" font-size="36" textLength="69.5" lengthAdjust="spacingAndGlyphs">0/10</text>
<text x="1082.8" y="1187.2" font-size="30" textLength="404" lengthAdjust="spacingAndGlyphs">Days post tumor inoculation</text>
</g>
<g>
<g fill="none" stroke="#231f20" stroke-width="2" stroke-linejoin="miter" stroke-miterlimit="6">
<polyline points="1590.7,1095.6 1735.12,1095.6 1760.6,1093.45 1781.84,1091.12 1809.02,1092.55 1816.24,1083.41 1828.98,1079.82 1873.16,1012.05 1880.38,935.31 1901.62,802.8"/>
<polyline points="1590.7,1095.6 1735.12,1095.6 1752.11,1093.81 1760.6,1090.22 1781.84,1087.35 1790.33,1080.36 1798.83,1066.55 1807.32,1053.82 1816.24,1008.46 1828.98,994.83 1841.73,982.82 1871.88,873.81"/>
<polyline points="1590.7,1095.6 1743.61,1095.6 1769.1,1092.01 1783.54,1089.32 1800.1,1080.9 1809.02,1083.41 1828.98,1057.59 1836.21,1030.16 1871.88,873.81"/>
<polyline points="1590.7,1095.6 1743.61,1095.6 1769.1,1093.81 1781.84,1092.01 1809.02,1090.76 1816.24,1078.03 1828.98,1048.44 1841.73,1023.88 1871.88,1021.19 1880.38,1013.84 1901.62,1023.88 1931.35,998.6"/>
</g>
<line x1="1590.7" y1="645.1" x2="1590.7" y2="1110.6" stroke="#231f20" stroke-width="4.5"/>
<line x1="1575.7" y1="1095.6" x2="1932.75" y2="1095.6" stroke="#231f20" stroke-width="4.5"/>
<line x1="1575.7" y1="1005.95" x2="1590.7" y2="1005.95" stroke="#231f20" stroke-width="4.5"/>
<line x1="1575.7" y1="916.3" x2="1590.7" y2="916.3" stroke="#231f20" stroke-width="4.5"/>
<line x1="1575.7" y1="826.65" x2="1590.7" y2="826.65" stroke="#231f20" stroke-width="4.5"/>
<line x1="1575.7" y1="737" x2="1590.7" y2="737" stroke="#231f20" stroke-width="4.5"/>
<line x1="1575.7" y1="647.35" x2="1590.7" y2="647.35" stroke="#231f20" stroke-width="4.5"/>
<line x1="1675.65" y1="1095.6" x2="1675.65" y2="1110.6" stroke="#231f20" stroke-width="4.5"/>
<line x1="1760.6" y1="1095.6" x2="1760.6" y2="1110.6" stroke="#231f20" stroke-width="4.5"/>
<line x1="1845.55" y1="1095.6" x2="1845.55" y2="1110.6" stroke="#231f20" stroke-width="4.5"/>
<line x1="1930.5" y1="1095.6" x2="1930.5" y2="1110.6" stroke="#231f20" stroke-width="4.5"/>
<text x="1590.7" y="1142.8" font-size="31" text-anchor="middle">0</text>
<text x="1675.65" y="1142.8" font-size="31" text-anchor="middle" textLength="35" lengthAdjust="spacingAndGlyphs">20</text>
<text x="1760.6" y="1142.8" font-size="31" text-anchor="middle" textLength="35" lengthAdjust="spacingAndGlyphs">40</text>
<text x="1845.55" y="1142.8" font-size="31" text-anchor="middle" textLength="35" lengthAdjust="spacingAndGlyphs">60</text>
<text x="1930.5" y="1142.8" font-size="31" text-anchor="middle" textLength="35" lengthAdjust="spacingAndGlyphs">80</text>
<text x="1901.6" y="785.69" font-size="32" text-anchor="middle">†</text>
<text x="1869.4" y="844.99" font-size="32" text-anchor="middle">†</text>
<text x="1881.1" y="879.69" font-size="32" text-anchor="middle">†</text>
<text x="1885.8" y="1084.69" font-size="32" text-anchor="middle">†</text>
<text x="1652.3" y="584" font-size="36" textLength="273" lengthAdjust="spacingAndGlyphs">CTX/ ex-T/ αCD4</text>
<text x="1849" y="696.2" font-size="36" textLength="69.5" lengthAdjust="spacingAndGlyphs">6/10</text>
<text x="1557.8" y="1187.2" font-size="30" textLength="404" lengthAdjust="spacingAndGlyphs">Days post tumor inoculation</text>
</g>
<text x="37.3" y="1031.5" font-size="38" textLength="305" lengthAdjust="spacingAndGlyphs" transform="rotate(-90 37.3 1031.5)">Tumor size (mm<tspan font-size="26" dy="-17">3</tspan><tspan dy="17">)</tspan></text>
<text x="11" y="1356.3" font-size="64.5" font-weight="bold" textLength="42" lengthAdjust="spacingAndGlyphs" class="b">d</text>
<g>
<polyline points="197.6,1487.45 354.48,1487.45 354.48,1520.68 360.75,1520.68 360.75,1553.92 367.02,1553.92 367.02,1587.15 379.58,1587.15 379.58,1620.39 385.85,1620.39 385.85,1653.62 392.12,1653.62 392.12,1686.86 404.68,1686.86 404.68,1720.1 410.95,1720.1 410.95,1786.57 417.23,1786.57 417.23,1819.8" fill="none" stroke="#231f20" stroke-width="2.2"/>
<rect x="345.38" y="1511.59" width="18.2" height="18.2" fill="none" stroke="#231f20" stroke-width="2.4"/>
<rect x="351.65" y="1544.82" width="18.2" height="18.2" fill="none" stroke="#231f20" stroke-width="2.4"/>
<rect x="357.92" y="1578.06" width="18.2" height="18.2" fill="none" stroke="#231f20" stroke-width="2.4"/>
<rect x="370.48" y="1611.29" width="18.2" height="18.2" fill="none" stroke="#231f20" stroke-width="2.4"/>
<rect x="376.75" y="1644.53" width="18.2" height="18.2" fill="none" stroke="#231f20" stroke-width="2.4"/>
<rect x="383.02" y="1677.76" width="18.2" height="18.2" fill="none" stroke="#231f20" stroke-width="2.4"/>
<rect x="395.57" y="1711" width="18.2" height="18.2" fill="none" stroke="#231f20" stroke-width="2.4"/>
<rect x="401.85" y="1777.47" width="18.2" height="18.2" fill="none" stroke="#231f20" stroke-width="2.4"/>
<rect x="408.12" y="1810.7" width="18.2" height="18.2" fill="none" stroke="#231f20" stroke-width="2.4"/>
<polyline points="197.6,1487.45 367.02,1487.45 367.02,1520.68 379.58,1520.68 379.58,1587.15 410.95,1587.15 410.95,1620.39 417.23,1620.39 417.23,1653.62 423.5,1653.62 423.5,1720.1 429.77,1720.1 429.77,1753.33 436.05,1753.33 436.05,1786.57 448.6,1786.57 448.6,1819.8" fill="none" stroke="#231f20" stroke-width="2.2"/>
<circle cx="367.02" cy="1520.68" r="9.1" fill="none" stroke="#231f20" stroke-width="2.4"/>
<circle cx="379.58" cy="1587.15" r="9.1" fill="none" stroke="#231f20" stroke-width="2.4"/>
<circle cx="410.95" cy="1620.39" r="9.1" fill="none" stroke="#231f20" stroke-width="2.4"/>
<circle cx="417.23" cy="1653.62" r="9.1" fill="none" stroke="#231f20" stroke-width="2.4"/>
<circle cx="423.5" cy="1720.1" r="9.1" fill="none" stroke="#231f20" stroke-width="2.4"/>
<circle cx="429.77" cy="1753.33" r="9.1" fill="none" stroke="#231f20" stroke-width="2.4"/>
<circle cx="436.05" cy="1786.57" r="9.1" fill="none" stroke="#231f20" stroke-width="2.4"/>
<circle cx="448.6" cy="1819.8" r="9.1" fill="none" stroke="#231f20" stroke-width="2.4"/>
<polyline points="197.6,1487.45 417.23,1487.45 417.23,1553.92 423.5,1553.92 423.5,1587.15 442.33,1587.15 442.33,1620.39 448.6,1620.39 448.6,1653.62 454.88,1653.62 454.88,1686.86 461.15,1686.86 461.15,1753.33 486.25,1753.33 486.25,1786.57 530.18,1786.57 530.18,1819.8" fill="none" stroke="#231f20" stroke-width="2.2"/>
<circle cx="417.23" cy="1553.92" r="10.1" fill="#231f20"/>
<circle cx="423.5" cy="1587.15" r="10.1" fill="#231f20"/>
<circle cx="442.33" cy="1620.39" r="10.1" fill="#231f20"/>
<circle cx="448.6" cy="1653.62" r="10.1" fill="#231f20"/>
<circle cx="454.88" cy="1686.86" r="10.1" fill="#231f20"/>
<circle cx="461.15" cy="1753.33" r="10.1" fill="#231f20"/>
<circle cx="486.25" cy="1786.57" r="10.1" fill="#231f20"/>
<circle cx="530.18" cy="1819.8" r="10.1" fill="#231f20"/>
<polyline points="197.6,1487.45 592.93,1487.45 592.93,1520.68 611.75,1520.68 611.75,1553.92 655.68,1553.92 655.68,1587.15 661.95,1587.15 661.95,1620.39 699.6,1620.39" fill="none" stroke="#231f20" stroke-width="2.2"/>
<polygon points="592.93,1510.48 603.13,1529.48 582.73,1529.48" fill="#231f20"/>
<polygon points="611.75,1543.72 621.95,1562.72 601.55,1562.72" fill="#231f20"/>
<polygon points="655.68,1576.95 665.88,1595.95 645.48,1595.95" fill="#231f20"/>
<polygon points="661.95,1610.19 672.15,1629.19 651.75,1629.19" fill="#231f20"/>
<polygon points="699.6,1610.19 709.8,1629.19 689.4,1629.19" fill="#231f20"/>
<line x1="197.6" y1="1484.95" x2="197.6" y2="1835.8" stroke="#231f20" stroke-width="5"/>
<line x1="182.1" y1="1819.8" x2="702.1" y2="1819.8" stroke="#231f20" stroke-width="5"/>
<line x1="182.1" y1="1753.33" x2="197.6" y2="1753.33" stroke="#231f20" stroke-width="5"/>
<line x1="182.1" y1="1686.86" x2="197.6" y2="1686.86" stroke="#231f20" stroke-width="5"/>
<line x1="182.1" y1="1620.39" x2="197.6" y2="1620.39" stroke="#231f20" stroke-width="5"/>
<line x1="182.1" y1="1553.92" x2="197.6" y2="1553.92" stroke="#231f20" stroke-width="5"/>
<line x1="182.1" y1="1487.45" x2="197.6" y2="1487.45" stroke="#231f20" stroke-width="5"/>
<line x1="323.1" y1="1819.8" x2="323.1" y2="1835.8" stroke="#231f20" stroke-width="5"/>
<line x1="448.6" y1="1819.8" x2="448.6" y2="1835.8" stroke="#231f20" stroke-width="5"/>
<line x1="574.1" y1="1819.8" x2="574.1" y2="1835.8" stroke="#231f20" stroke-width="5"/>
<line x1="699.6" y1="1819.8" x2="699.6" y2="1835.8" stroke="#231f20" stroke-width="5"/>
<text x="178.1" y="1831.4" font-size="35.5" text-anchor="end">0</text>
<text x="178.1" y="1764.93" font-size="35.5" text-anchor="end">20</text>
<text x="178.1" y="1698.46" font-size="35.5" text-anchor="end">40</text>
<text x="178.1" y="1631.99" font-size="35.5" text-anchor="end">60</text>
<text x="178.1" y="1565.52" font-size="35.5" text-anchor="end">80</text>
<text x="178.1" y="1499.05" font-size="35.5" text-anchor="end">100</text>
<text x="197.6" y="1868.3" font-size="31.5" text-anchor="middle">0</text>
<text x="323.1" y="1868.3" font-size="31.5" text-anchor="middle" textLength="36.5" lengthAdjust="spacingAndGlyphs">20</text>
<text x="448.6" y="1868.3" font-size="31.5" text-anchor="middle" textLength="36.5" lengthAdjust="spacingAndGlyphs">40</text>
<text x="574.1" y="1868.3" font-size="31.5" text-anchor="middle" textLength="36.5" lengthAdjust="spacingAndGlyphs">60</text>
<text x="699.6" y="1868.3" font-size="31.5" text-anchor="middle" textLength="36.5" lengthAdjust="spacingAndGlyphs">80</text>
<text x="211.5" y="1914.5" font-size="32" textLength="432.5" lengthAdjust="spacingAndGlyphs">Days post tumor inoculation</text>
<text x="109.4" y="1799.5" font-size="36" textLength="255" lengthAdjust="spacingAndGlyphs" transform="rotate(-90 109.4 1799.5)">Percent survival</text>
</g>
<line x1="674" y1="1340.4" x2="727.3" y2="1340.4" stroke="#231f20" stroke-width="2.2"/>
<rect x="690.7" y="1330.7" width="19.6" height="19.6" fill="none" stroke="#231f20" stroke-width="2.2"/>
<text x="755.5" y="1352.2" font-size="30" textLength="59.5" lengthAdjust="spacingAndGlyphs">CTX</text>
<line x1="674" y1="1395.7" x2="727.3" y2="1395.7" stroke="#231f20" stroke-width="2.2"/>
<circle cx="700.7" cy="1395.8" r="9.75" fill="none" stroke="#231f20" stroke-width="2.2"/>
<text x="755.5" y="1407.6" font-size="30" textLength="145.5" lengthAdjust="spacingAndGlyphs">CTX/αCD4</text>
<line x1="674" y1="1451.5" x2="727.3" y2="1451.5" stroke="#231f20" stroke-width="2.2"/>
<circle cx="700.6" cy="1451.3" r="9.8" fill="#231f20"/>
<text x="755.5" y="1463.5" font-size="30" textLength="127.5" lengthAdjust="spacingAndGlyphs">CTX/ex-T</text>
<line x1="674" y1="1507" x2="727.3" y2="1507" stroke="#231f20" stroke-width="2.2"/>
<polygon points="700.5,1496.6 710.7,1515.6 690.3,1515.6" fill="#231f20"/>
<text x="755.5" y="1518.9" font-size="30" textLength="215" lengthAdjust="spacingAndGlyphs">CTX/ex-T/αCD4</text>
<polyline points="909.5,1329.3 922.3,1329.3 922.3,1386.8 909.5,1386.8" fill="none" stroke="#231f20" stroke-width="2.6"/>
<polyline points="907.5,1400.8 921.8,1400.8 921.8,1463.3 907.5,1463.3" fill="none" stroke="#231f20" stroke-width="2.6"/>
<polyline points="1018.2,1330.2 1032,1330.2 1032,1464.3 1018.2,1464.3" fill="none" stroke="#231f20" stroke-width="2.6"/>
<polyline points="1018.2,1481.9 1032,1481.9 1032,1516.5 1018.2,1516.5" fill="none" stroke="#231f20" stroke-width="2.6"/>
<polyline points="1139.2,1329.3 1152.7,1329.3 1152.7,1516.5 1139.2,1516.5" fill="none" stroke="#231f20" stroke-width="2.6"/>
<text x="926.5" y="1369.8" font-size="20" textLength="91.5" lengthAdjust="spacingAndGlyphs">p=0.0114</text>
<text x="926.5" y="1436.8" font-size="20" textLength="91.5" lengthAdjust="spacingAndGlyphs">p=0.0036</text>
<text x="1037.5" y="1411" font-size="20" textLength="90.5" lengthAdjust="spacingAndGlyphs">p&lt;0.0001</text>
<text x="1038.3" y="1505.2" font-size="20" textLength="90.5" lengthAdjust="spacingAndGlyphs">p&lt;0.0001</text>
<text x="1160" y="1434.6" font-size="20" textLength="90.5" lengthAdjust="spacingAndGlyphs">p&lt;0.0001</text>
<text x="1371.7" y="1365.1" font-size="64" font-weight="bold" textLength="38.3" lengthAdjust="spacingAndGlyphs" class="b">e</text>
<defs>
<pattern id="dots" width="106" height="110" patternUnits="userSpaceOnUse" patternTransform="rotate(4)"><ellipse cx="22" cy="22" rx="13" ry="10" fill="#bdbdbf"/><ellipse cx="75" cy="77" rx="13" ry="10" fill="#bdbdbf"/><ellipse cx="24" cy="20" rx="6" ry="4.5" fill="#ececee"/><ellipse cx="77" cy="75" rx="6" ry="4.5" fill="#ececee"/></pattern>
<filter id="bgn" x="0" y="0" width="100%" height="100%"><feTurbulence type="fractalNoise" baseFrequency="0.035" numOctaves="2" seed="7" result="n"/><feColorMatrix in="n" type="matrix" values="0 0 0 0 1  0 0 0 0 1  0 0 0 0 1  1.3 0 0 0 -0.5" result="w"/><feComposite in="w" in2="SourceGraphic" operator="in"/></filter>
<filter id="fur" x="-5%" y="-5%" width="110%" height="110%"><feGaussianBlur in="SourceGraphic" stdDeviation="6" result="b"/><feTurbulence type="fractalNoise" baseFrequency="0.11 0.02" numOctaves="2" seed="4" result="n"/><feColorMatrix in="n" type="matrix" values="0 0 0 0 0.46  0 0 0 0 0.46  0 0 0 0 0.47  0.9 0 0 0 -0.42" result="n2"/><feComposite in="n2" in2="b" operator="in" result="n3"/><feMerge><feMergeNode in="b"/><feMergeNode in="n3"/></feMerge></filter>
<filter id="furw" x="-10%" y="-10%" width="120%" height="120%"><feGaussianBlur in="SourceGraphic" stdDeviation="12" result="b"/><feTurbulence type="fractalNoise" baseFrequency="0.12 0.018" numOctaves="2" seed="11" result="n"/><feColorMatrix in="n" type="matrix" values="0 0 0 0 0.16  0 0 0 0 0.16  0 0 0 0 0.17  2.4 0 0 0 -1.05" result="n2"/><feComposite in="n2" in2="b" operator="in" result="n3"/><feMerge><feMergeNode in="b"/><feMergeNode in="n3"/></feMerge></filter>
<filter id="furw3" x="-15%" y="-15%" width="130%" height="130%"><feGaussianBlur in="SourceGraphic" stdDeviation="26" result="b"/><feTurbulence type="fractalNoise" baseFrequency="0.1 0.015" numOctaves="2" seed="23" result="n"/><feColorMatrix in="n" type="matrix" values="0 0 0 0 0.14  0 0 0 0 0.14  0 0 0 0 0.15  3.2 0 0 0 -1.3" result="n2"/><feComposite in="n2" in2="b" operator="in" result="n3"/><feMerge><feMergeNode in="b"/><feMergeNode in="n3"/></feMerge></filter>
<filter id="soft" x="-20%" y="-20%" width="140%" height="140%"><feGaussianBlur stdDeviation="16"/></filter>
<filter id="soft2" x="-10%" y="-10%" width="120%" height="120%"><feGaussianBlur stdDeviation="5"/></filter>
<clipPath id="phclip"><rect x="38" y="28" width="1874" height="1340"/></clipPath>
<clipPath id="cm1"><path d="M590,82 C650,90 690,180 700,270 C720,340 750,400 765,520 C800,700 820,900 790,1100 C770,1220 700,1290 560,1330 C440,1360 300,1310 230,1230 C170,1160 160,1040 210,960 C250,900 280,850 275,760 C265,640 290,500 330,400 C345,330 360,250 410,170 C450,110 520,75 590,82 Z"/></clipPath>
<clipPath id="cm2"><path d="M1010,160 C1080,160 1120,230 1130,300 C1190,380 1215,480 1225,600 C1235,760 1260,900 1250,1020 C1240,1120 1200,1200 1130,1260 C1060,1300 980,1290 930,1240 C850,1170 810,1080 815,960 C820,840 770,700 780,560 C790,440 830,340 880,290 C900,220 950,160 1010,160 Z"/></clipPath>
<clipPath id="cm3"><path d="M1420,152 C1500,150 1550,230 1570,300 C1640,380 1690,450 1705,560 C1720,700 1740,820 1770,950 C1800,1060 1800,1150 1740,1230 C1680,1310 1580,1360 1480,1355 C1360,1350 1260,1300 1220,1200 C1200,1100 1250,950 1245,800 C1240,650 1215,520 1250,420 C1270,350 1300,300 1320,270 C1340,200 1370,155 1420,152 Z"/></clipPath>
</defs>
<g transform="translate(1455 1290) scale(0.21683)">
<g clip-path="url(#phclip)">
<rect x="38" y="28" width="1874" height="1340" fill="#ebebed"/>
<rect x="38" y="28" width="1874" height="1340" fill="#fff" filter="url(#bgn)"/>
<rect x="38" y="28" width="1874" height="1340" fill="url(#dots)"/>
<g filter="url(#soft)" fill="#c4c4c6" opacity="0.9"><ellipse cx="560" cy="1300" rx="330" ry="60"/><ellipse cx="1060" cy="1275" rx="230" ry="50"/><ellipse cx="1600" cy="1310" rx="330" ry="55"/></g>
<g filter="url(#soft2)">
<polygon points="208,190 350,198 338,302 190,292" fill="#b4b4b6"/>
<polygon points="200,250 340,260 338,302 190,292" fill="#8e8e90"/>
<polygon points="740,268 885,278 855,374 712,372" fill="#b0b0b2"/>
<polygon points="1105,292 1192,282 1224,382 1130,394" fill="#b6b6b8"/>
<polygon points="1232,292 1340,290 1350,388 1222,374" fill="#b6b6b8"/>
<polygon points="1590,282 1722,292 1746,384 1600,384" fill="#adadaf"/>
</g>
<g filter="url(#fur)">
<path d="M590,82 C650,90 690,180 700,270 C720,340 750,400 765,520 C800,700 820,900 790,1100 C770,1220 700,1290 560,1330 C440,1360 300,1310 230,1230 C170,1160 160,1040 210,960 C250,900 280,850 275,760 C265,640 290,500 330,400 C345,330 360,250 410,170 C450,110 520,75 590,82 Z" fill="#323234"/>
<path d="M1010,160 C1080,160 1120,230 1130,300 C1190,380 1215,480 1225,600 C1235,760 1260,900 1250,1020 C1240,1120 1200,1200 1130,1260 C1060,1300 980,1290 930,1240 C850,1170 810,1080 815,960 C820,840 770,700 780,560 C790,440 830,340 880,290 C900,220 950,160 1010,160 Z" fill="#2d2d2f"/>
<path d="M1420,152 C1500,150 1550,230 1570,300 C1640,380 1690,450 1705,560 C1720,700 1740,820 1770,950 C1800,1060 1800,1150 1740,1230 C1680,1310 1580,1360 1480,1355 C1360,1350 1260,1300 1220,1200 C1200,1100 1250,950 1245,800 C1240,650 1215,520 1250,420 C1270,350 1300,300 1320,270 C1340,200 1370,155 1420,152 Z" fill="#343436"/>
</g>
<g clip-path="url(#cm1)"><g filter="url(#soft)">
<ellipse cx="480" cy="630" rx="170" ry="45" fill="#58585a" opacity="0.75"/>
<ellipse cx="520" cy="330" rx="120" ry="70" fill="#4a4a4c" opacity="0.6"/>
<ellipse cx="610" cy="255" rx="42" ry="62" fill="#c6c6c8"/>
<ellipse cx="350" cy="300" rx="30" ry="50" fill="#8a8a8c" opacity="0.7"/>
<ellipse cx="520" cy="480" rx="110" ry="70" fill="#1e1e20" opacity="0.7"/>
<circle cx="355" cy="1090" r="185" fill="#1d1d1f" opacity="0.9"/>
<ellipse cx="340" cy="1015" rx="75" ry="45" fill="#6a6a6d" opacity="0.75"/>
<ellipse cx="300" cy="1180" rx="90" ry="50" fill="#3c3c3e" opacity="0.6"/>
<ellipse cx="640" cy="1000" rx="100" ry="200" fill="#262628" opacity="0.7"/>
</g></g>
<g clip-path="url(#cm2)">
<g filter="url(#soft)">
<ellipse cx="1000" cy="540" rx="100" ry="120" fill="#18181a" opacity="0.85"/>
<ellipse cx="1010" cy="250" rx="80" ry="60" fill="#1c1c1e" opacity="0.8"/>
<ellipse cx="1130" cy="350" rx="35" ry="45" fill="#9a9a9c" opacity="0.8"/>
<ellipse cx="890" cy="340" rx="28" ry="40" fill="#77777a" opacity="0.6"/>
</g>
<path filter="url(#furw)" d="M950,740 C1040,745 1110,790 1170,880 C1220,950 1265,1030 1250,1095 C1180,1115 1100,1065 1020,1095 C960,1125 900,1165 845,1115 C808,1050 810,950 848,860 C878,790 908,745 950,740 Z" fill="#cdcdcf"/>
<ellipse filter="url(#soft)" cx="1060" cy="1215" rx="140" ry="75" fill="#1e1e20" opacity="0.9"/>
</g>
<g clip-path="url(#cm3)">
<path filter="url(#furw3)" d="M1300,660 C1420,610 1600,630 1700,720 C1745,850 1800,1000 1780,1130 C1730,1250 1640,1260 1580,1190 C1540,1150 1440,1150 1400,1190 C1340,1260 1245,1210 1232,1100 C1255,950 1255,800 1300,660 Z" fill="#848486" opacity="0.8"/>
<path filter="url(#furw3)" d="M1300,900 C1400,860 1600,870 1720,930 C1770,1010 1770,1090 1715,1150 C1600,1110 1400,1110 1275,1150 C1245,1080 1265,980 1300,900 Z" fill="#b0b0b2" opacity="0.65"/>
<g filter="url(#soft)">
<ellipse cx="1440" cy="290" rx="95" ry="95" fill="#1a1a1c" opacity="0.85"/>
<ellipse cx="1330" cy="385" rx="45" ry="45" fill="#8e8e90" opacity="0.8"/>
<ellipse cx="1610" cy="390" rx="38" ry="38" fill="#8a8a8c" opacity="0.7"/>
<ellipse cx="1480" cy="1290" rx="130" ry="75" fill="#202022" opacity="0.9"/>
<ellipse cx="1460" cy="520" rx="150" ry="70" fill="#262628" opacity="0.7"/>
</g></g>
<g fill="#fff" stroke="#fff">
<line x1="705" y1="625" x2="540" y2="780" stroke-width="13"/>
<polygon points="465,851 508,738 582,818" stroke="none"/>
<line x1="1280" y1="565" x2="1120" y2="718" stroke-width="13"/>
<polygon points="1045,790 1088,677 1162,757" stroke="none"/>
</g>
</g>
<rect x="38" y="28" width="1874" height="1340" fill="none" stroke="#231f20" stroke-width="11"/>
</g>
<text x="1009" y="1701.6" font-size="64" font-weight="bold" textLength="26" lengthAdjust="spacingAndGlyphs" class="b">f</text>
<line x1="1348" y1="1644.5" x2="1348" y2="1916" stroke="#231f20" stroke-width="3.5"/>
<line x1="1010" y1="1724.2" x2="2000" y2="1724.2" stroke="#231f20" stroke-width="3.5"/>
<text x="1456.6" y="1698.9" font-size="31" text-anchor="middle" textLength="133" lengthAdjust="spacingAndGlyphs">Vitiligo (-)</text>
<text x="1674" y="1680" font-size="31" text-anchor="middle" textLength="142" lengthAdjust="spacingAndGlyphs">Vitiligo (+)</text>
<text x="1674.7" y="1718.2" font-size="31" text-anchor="middle" textLength="207" lengthAdjust="spacingAndGlyphs">Tumor-bearing</text>
<text x="1891" y="1680" font-size="31" text-anchor="middle" textLength="142" lengthAdjust="spacingAndGlyphs">Vitiligo (+)</text>
<text x="1892" y="1718.2" font-size="31" text-anchor="middle" textLength="155" lengthAdjust="spacingAndGlyphs">Tumor-free</text>
<text x="1178.6" y="1761.5" font-size="31" text-anchor="middle" textLength="63" lengthAdjust="spacingAndGlyphs">CTX</text>
<text x="1456.6" y="1761.5" font-size="31" text-anchor="middle">10</text>
<text x="1673.5" y="1761.5" font-size="31" text-anchor="middle">0</text>
<text x="1890.3" y="1761.5" font-size="31" text-anchor="middle">0</text>
<text x="1178.6" y="1809.65" font-size="31" text-anchor="middle" textLength="153" lengthAdjust="spacingAndGlyphs">CTX/αCD4</text>
<text x="1456.6" y="1809.65" font-size="31" text-anchor="middle">10</text>
<text x="1673.5" y="1809.65" font-size="31" text-anchor="middle">0</text>
<text x="1890.3" y="1809.65" font-size="31" text-anchor="middle">0</text>
<text x="1178.6" y="1857.8" font-size="31" text-anchor="middle" textLength="136" lengthAdjust="spacingAndGlyphs">CTX/ex-T</text>
<text x="1456.6" y="1857.8" font-size="31" text-anchor="middle">10</text>
<text x="1673.5" y="1857.8" font-size="31" text-anchor="middle">0</text>
<text x="1890.3" y="1857.8" font-size="31" text-anchor="middle">0</text>
<text x="1178.6" y="1905.95" font-size="31" text-anchor="middle" textLength="225" lengthAdjust="spacingAndGlyphs">CTX/ex-T/αCD4</text>
<text x="1456.6" y="1905.95" font-size="31" text-anchor="middle">2</text>
<text x="1673.5" y="1905.95" font-size="31" text-anchor="middle">3</text>
<text x="1890.3" y="1905.95" font-size="31" text-anchor="middle">5</text>
</svg></body></html>
